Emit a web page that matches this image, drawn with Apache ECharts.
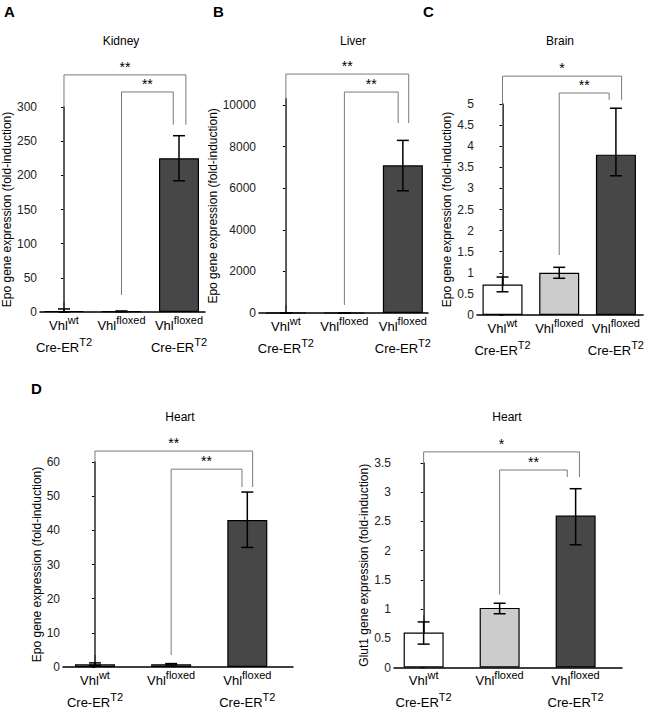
<!DOCTYPE html>
<html>
<head>
<meta charset="utf-8">
<script src="https://cdn.jsdelivr.net/npm/echarts@6/dist/echarts.min.js"></script>
<style>
html,body{margin:0;padding:0;background:#fff;}
#c{width:647px;height:709px;}
</style>
</head>
<body>
<div id="c"></div>
<script>
// ---------- data ----------
const catMain = ['Vhl', 'Vhl', 'Vhl'];
const catSup = ['wt', 'floxed', 'floxed'];
const catLine2 = ['Cre-ER', '', 'Cre-ER'];
const catLine2Sup = ['T2', '', 'T2'];

const kidneyMean = [1.5, 1, 225];
const kidneyLow = [0, 0.5, 192];
const kidneyHigh = [4.5, 1.5, 258];

const liverMean = [1, 1, 7100];
const liverLow = [0, 0, 5880];
const liverHigh = [2, 2, 8300];

const brainMean = [0.72, 1.0, 3.8];
const brainLow = [0.55, 0.87, 3.3];
const brainHigh = [0.90, 1.13, 4.9];

const heartEpoMean = [0.8, 0.8, 43];
const heartEpoLow = [0.5, 0.6, 35];
const heartEpoHigh = [1.2, 1.0, 51.2];

const heartGlutMean = [0.6, 1.02, 2.6];
const heartGlutLow = [0.40, 0.92, 2.1];
const heartGlutHigh = [0.78, 1.10, 3.06];

// brackets: [xFrom, xTo, yLine, yLegFrom, yLegTo, stars]
const kidneyBrackets = [[0, 2.12, 347, 15, 274, '**'], [1, 1.9, 322, 25, 274, '**']];
const liverBrackets = [[0, 2.1, 11490, 385, 9135, '**'], [1, 1.92, 10625, 385, 9135, '**']];
const brainBrackets = [[0, 2.1, 5.66, 0.95, 5.1, '*'], [1, 1.88, 5.26, 1.42, 5.1, '**']];
const heartEpoBrackets = [[0, 2.07, 63.2, 3.5, 52.7, '**'], [1, 1.93, 57.9, 3.5, 52.7, '**']];
const heartGlutBrackets = [[0, 2.05, 3.69, 0.9, 3.26, '*'], [1, 1.89, 3.38, 1.25, 3.26, '**']];

const yTicksKidney = [0, 50, 100, 150, 200, 250, 300];
const yTicksLiver = [0, 2000, 4000, 6000, 8000, 10000];
const yTicksBrain = [0, 0.5, 1, 1.5, 2, 2.5, 3, 3.5, 4, 4.5, 5];
const yTicksHeartEpo = [0, 10, 20, 30, 40, 50, 60];
const yTicksHeartGlut = [0, 0.5, 1, 1.5, 2, 2.5, 3, 3.5];

const panelTitles = ['Kidney', 'Liver', 'Brain', 'Heart', 'Heart'];
const yNames = ['Epo gene expression (fold-induction)', 'Epo gene expression (fold-induction)',
  'Epo gene expression (fold-induction)', 'Epo gene expression (fold-induction)',
  'Glut1 gene expression (fold-induction)'];
const panelLetters = ['A', 'B', 'C', 'D'];

// ---------- styling / layout ----------
const FONT = '"Liberation Sans", Arial, Helvetica, sans-serif';
const barColors = ['#ffffff', '#cccccc', '#474747'];

const panels = [
  {mean: kidneyMean, low: kidneyLow, high: kidneyHigh, br: kidneyBrackets, ticks: yTicksKidney,
   grid: {left: 40, top: 107, width: 165, height: 205}, xMin: -0.417, xMax: 2.452, yMax: 300, nameGap: 9},
  {mean: liverMean, low: liverLow, high: liverHigh, br: liverBrackets, ticks: yTicksLiver,
   grid: {left: 259, top: 98.8, width: 169, height: 214.2}, xMin: -0.46, xMax: 2.43, yMax: 10300, nameGap: 24},
  {mean: brainMean, low: brainLow, high: brainHigh, br: brainBrackets, ticks: yTicksBrain,
   grid: {left: 477, top: 104, width: 169, height: 211}, xMin: -0.45, xMax: 2.48, yMax: 5, nameGap: 18},
  {mean: heartEpoMean, low: heartEpoLow, high: heartEpoHigh, br: heartEpoBrackets, ticks: yTicksHeartEpo,
   grid: {left: 63, top: 462, width: 230, height: 205}, xMin: -0.42, xMax: 2.6, yMax: 60, nameGap: 15},
  {mean: heartGlutMean, low: heartGlutLow, high: heartGlutHigh, br: heartGlutBrackets, ticks: yTicksHeartGlut,
   grid: {left: 394, top: 463, width: 228, height: 205}, xMin: -0.39, xMax: 2.61, yMax: 3.5, nameGap: 21}
];

function catLabel(v) {
  const i = Math.round(v);
  let s = '{b|' + catMain[i] + '}{s|' + catSup[i] + '}';
  if (catLine2[i]) s += '\n{b|' + catLine2[i] + '}{s|' + catLine2Sup[i] + '}';
  return s;
}

const grids = [], xAxes = [], yAxes = [], series = [];
panels.forEach((p, k) => {
  grids.push(Object.assign({containLabel: false}, p.grid));
  xAxes.push({
    type: 'value', gridIndex: k, min: p.xMin, max: p.xMax,
    axisLine: {show: true, onZero: false, lineStyle: {color: '#000', width: 1.5}},
    axisTick: {show: false}, splitLine: {show: false},
    axisLabel: {
      customValues: [0, 1, 2], formatter: catLabel, margin: 2, color: '#000',
      rich: {
        b: {fontSize: 13, lineHeight: 22, fontFamily: FONT, color: '#000'},
        s: {fontSize: 11, lineHeight: 12, verticalAlign: 'top', fontFamily: FONT, color: '#000'}
      }
    }
  });
  yAxes.push({
    type: 'value', gridIndex: k, min: 0, max: p.yMax,
    name: yNames[k], nameLocation: 'middle', nameGap: p.nameGap,
    nameTextStyle: {fontSize: 12, fontFamily: FONT, color: '#000'},
    axisLine: {show: true, lineStyle: {color: '#000', width: 1.5}},
    axisTick: {show: true, length: 3, customValues: p.ticks, lineStyle: {color: '#000', width: 1}},
    splitLine: {show: false},
    axisLabel: {customValues: p.ticks, fontSize: 12, fontFamily: FONT, color: '#222', margin: 3,
      formatter: v => String(v)}
  });
  series.push({
    type: 'bar', xAxisIndex: k, yAxisIndex: k, barWidth: 40, z: 1,
    data: p.mean.map((v, i) => ({value: [i, v], itemStyle: {color: barColors[i], borderColor: '#000', borderWidth: 1.2}})),
    silent: true, animation: false
  });
  series.push({
    type: 'custom', xAxisIndex: k, yAxisIndex: k, animation: false, silent: true, z: 5,
    data: p.mean.map((v, i) => [i, p.low[i], p.high[i]]),
    renderItem: function (params, api) {
      const lo = api.coord([api.value(0), api.value(1)]);
      const hi = api.coord([api.value(0), api.value(2)]);
      const w = 6;
      const st = {stroke: '#000', lineWidth: 1.5, fill: null};
      return {type: 'group', children: [
        {type: 'line', shape: {x1: lo[0], y1: lo[1], x2: hi[0], y2: hi[1]}, style: st},
        {type: 'line', shape: {x1: lo[0] - w, y1: lo[1], x2: lo[0] + w, y2: lo[1]}, style: st},
        {type: 'line', shape: {x1: hi[0] - w, y1: hi[1], x2: hi[0] + w, y2: hi[1]}, style: st}
      ]};
    }
  });
  series.push({
    type: 'custom', xAxisIndex: k, yAxisIndex: k, animation: false, silent: true, clip: false, z: 4,
    data: p.br.map(b => b.slice(0, 5)),
    renderItem: function (params, api) {
      const b = p.br[params.dataIndex];
      const a = api.coord([api.value(0), api.value(2)]);
      const c = api.coord([api.value(1), api.value(2)]);
      const la = api.coord([api.value(0), api.value(3)]);
      const lc = api.coord([api.value(1), api.value(4)]);
      return {type: 'group', children: [
        {type: 'polyline', shape: {points: [la, a, c, lc]}, style: {stroke: '#7a7a7a', lineWidth: 1, fill: null}},
        {type: 'text', x: (a[0] + c[0]) / 2, y: a[1] - 1,
         style: {text: b[5], align: 'center', verticalAlign: 'bottom', fontSize: 14, fontFamily: FONT, fill: '#000'}}
      ]};
    }
  });
});

const graphics = [];
const titlePos = [[121, 41], [353, 41], [560, 41], [180, 417], [507, 417]];
panelTitles.forEach((t, i) => graphics.push({type: 'text', x: titlePos[i][0], y: titlePos[i][1],
  style: {text: t, align: 'center', verticalAlign: 'middle', fontSize: 12, fontFamily: FONT, fill: '#000'}}));
const letterPos = [[4, 11], [213, 11], [423, 11], [31, 388]];
panelLetters.forEach((t, i) => graphics.push({type: 'text', x: letterPos[i][0], y: letterPos[i][1],
  style: {text: t, align: 'left', verticalAlign: 'middle', fontSize: 15, fontWeight: 'bold', fontFamily: FONT, fill: '#000'}}));

const chart = echarts.init(document.getElementById('c'), null, {renderer: 'svg'});
chart.setOption({
  animation: false,
  backgroundColor: '#fff',
  grid: grids, xAxis: xAxes, yAxis: yAxes, series: series, graphic: graphics
});
</script>
</body>
</html>
